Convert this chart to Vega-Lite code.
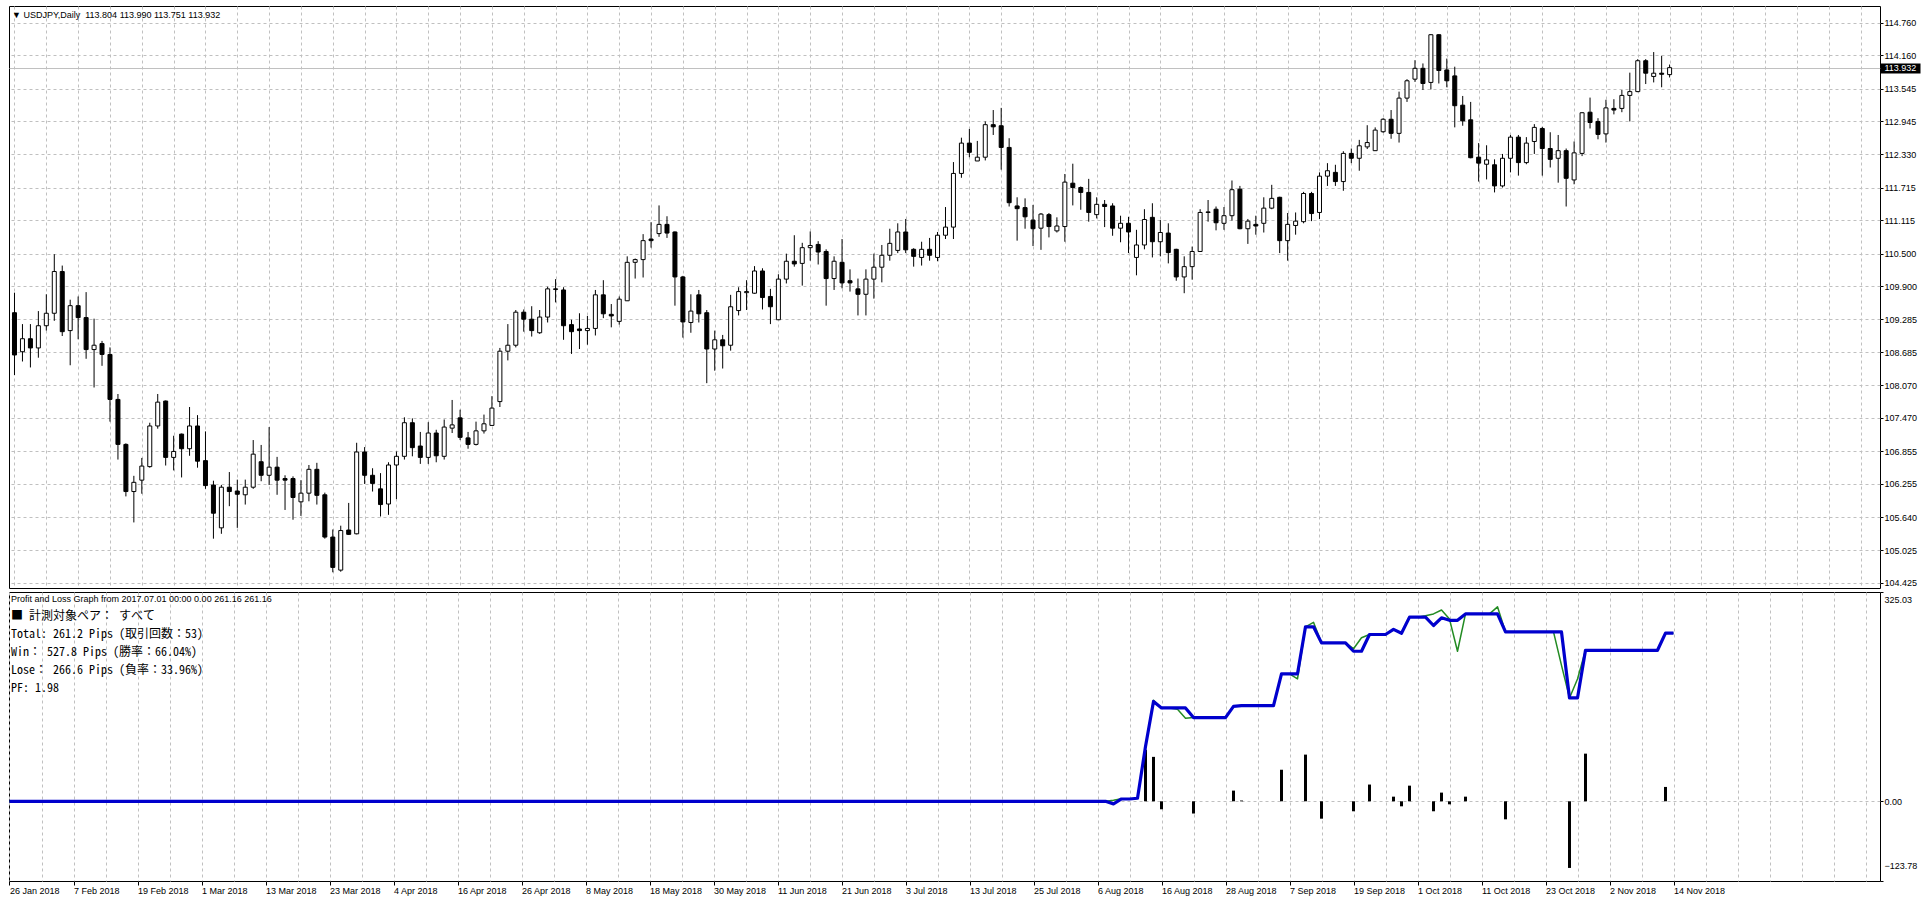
{
"$schema":"https://vega.github.io/schema/vega-lite/v6.json",
"background":"white",
"padding":{"left":7,"top":5,"right":0,"bottom":0},
"spacing":2,
"config":{
"view":{"stroke":"black","strokeWidth":1},
"axis":{"labelFont":"Liberation Sans","labelFontSize":9,"labelColor":"black","tickColor":"black","gridColor":"#c0c0c0","gridDash":[3,3],"gridWidth":1,"domain":false,"labelOverlap":false,"labelFlush":false,"labelBound":false}
},
"datasets":{"bars":[
{"i":0,"o":109.41,"h":109.78,"l":108.26,"c":108.63,"eq":0,"fl":0},
{"i":1,"o":108.69,"h":109.2,"l":108.51,"c":108.93,"eq":0,"fl":0},
{"i":2,"o":108.93,"h":109.2,"l":108.4,"c":108.76,"eq":0,"fl":0},
{"i":3,"o":108.76,"h":109.44,"l":108.58,"c":109.17,"eq":0,"fl":0},
{"i":4,"o":109.17,"h":109.75,"l":109.08,"c":109.4,"eq":0,"fl":0},
{"i":5,"o":109.4,"h":110.49,"l":109.26,"c":110.17,"eq":0,"fl":0},
{"i":6,"o":110.17,"h":110.28,"l":108.98,"c":109.06,"eq":0,"fl":0},
{"i":7,"o":109.08,"h":109.65,"l":108.44,"c":109.54,"eq":0,"fl":0},
{"i":8,"o":109.54,"h":109.71,"l":108.92,"c":109.32,"eq":0,"fl":0},
{"i":9,"o":109.32,"h":109.79,"l":108.56,"c":108.73,"eq":0,"fl":0},
{"i":10,"o":108.73,"h":109.3,"l":108.03,"c":108.81,"eq":0,"fl":0},
{"i":11,"o":108.84,"h":108.89,"l":108.43,"c":108.64,"eq":0,"fl":0},
{"i":12,"o":108.64,"h":108.77,"l":107.4,"c":107.81,"eq":0,"fl":0},
{"i":13,"o":107.81,"h":107.91,"l":106.7,"c":106.98,"eq":0,"fl":0},
{"i":14,"o":106.98,"h":107.0,"l":106.02,"c":106.11,"eq":0,"fl":0},
{"i":15,"o":106.11,"h":106.4,"l":105.54,"c":106.28,"eq":0,"fl":0},
{"i":16,"o":106.32,"h":106.73,"l":106.07,"c":106.58,"eq":0,"fl":0},
{"i":17,"o":106.57,"h":107.38,"l":106.55,"c":107.32,"eq":0,"fl":0},
{"i":18,"o":107.32,"h":107.91,"l":107.27,"c":107.76,"eq":0,"fl":0},
{"i":19,"o":107.78,"h":107.79,"l":106.59,"c":106.74,"eq":0,"fl":0},
{"i":20,"o":106.74,"h":107.14,"l":106.5,"c":106.85,"eq":0,"fl":0},
{"i":21,"o":107.17,"h":107.18,"l":106.37,"c":106.9,"eq":0,"fl":0},
{"i":22,"o":106.9,"h":107.67,"l":106.77,"c":107.32,"eq":0,"fl":0},
{"i":23,"o":107.32,"h":107.52,"l":106.55,"c":106.67,"eq":0,"fl":0},
{"i":24,"o":106.68,"h":107.22,"l":106.16,"c":106.22,"eq":0,"fl":0},
{"i":25,"o":106.23,"h":106.31,"l":105.24,"c":105.71,"eq":0,"fl":0},
{"i":26,"o":105.44,"h":106.23,"l":105.33,"c":106.19,"eq":0,"fl":0},
{"i":27,"o":106.19,"h":106.47,"l":105.84,"c":106.11,"eq":0,"fl":0},
{"i":28,"o":106.12,"h":106.33,"l":105.44,"c":106.06,"eq":0,"fl":0},
{"i":29,"o":106.05,"h":106.33,"l":105.87,"c":106.19,"eq":0,"fl":0},
{"i":30,"o":106.19,"h":107.06,"l":106.16,"c":106.8,"eq":0,"fl":0},
{"i":31,"o":106.66,"h":106.97,"l":106.3,"c":106.41,"eq":0,"fl":0},
{"i":32,"o":106.41,"h":107.3,"l":106.23,"c":106.56,"eq":0,"fl":0},
{"i":33,"o":106.56,"h":106.75,"l":106.05,"c":106.32,"eq":0,"fl":0},
{"i":34,"o":106.35,"h":106.41,"l":105.77,"c":106.32,"eq":0,"fl":0},
{"i":35,"o":106.35,"h":106.39,"l":105.59,"c":106.0,"eq":0,"fl":0},
{"i":36,"o":105.92,"h":106.32,"l":105.66,"c":106.08,"eq":0,"fl":0},
{"i":37,"o":106.08,"h":106.6,"l":105.93,"c":106.52,"eq":0,"fl":0},
{"i":38,"o":106.52,"h":106.64,"l":105.87,"c":106.04,"eq":0,"fl":0},
{"i":39,"o":106.05,"h":106.09,"l":105.24,"c":105.27,"eq":0,"fl":0},
{"i":40,"o":105.27,"h":105.41,"l":104.62,"c":104.71,"eq":0,"fl":0},
{"i":41,"o":104.66,"h":105.48,"l":104.63,"c":105.39,"eq":0,"fl":0},
{"i":42,"o":105.4,"h":105.9,"l":105.31,"c":105.32,"eq":0,"fl":0},
{"i":43,"o":105.33,"h":107.01,"l":105.32,"c":106.84,"eq":0,"fl":0},
{"i":44,"o":106.84,"h":106.93,"l":106.25,"c":106.41,"eq":0,"fl":0},
{"i":45,"o":106.41,"h":106.54,"l":106.11,"c":106.26,"eq":0,"fl":0},
{"i":46,"o":106.16,"h":106.45,"l":105.65,"c":105.87,"eq":0,"fl":0},
{"i":47,"o":105.88,"h":106.65,"l":105.68,"c":106.6,"eq":0,"fl":0},
{"i":48,"o":106.6,"h":106.85,"l":105.97,"c":106.76,"eq":0,"fl":0},
{"i":49,"o":106.76,"h":107.48,"l":106.7,"c":107.38,"eq":0,"fl":0},
{"i":50,"o":107.38,"h":107.46,"l":106.76,"c":106.92,"eq":0,"fl":0},
{"i":51,"o":106.95,"h":107.21,"l":106.62,"c":106.74,"eq":0,"fl":0},
{"i":52,"o":106.74,"h":107.39,"l":106.62,"c":107.19,"eq":0,"fl":0},
{"i":53,"o":107.19,"h":107.25,"l":106.65,"c":106.77,"eq":0,"fl":0},
{"i":54,"o":106.76,"h":107.44,"l":106.7,"c":107.3,"eq":0,"fl":0},
{"i":55,"o":107.28,"h":107.8,"l":107.19,"c":107.34,"eq":0,"fl":0},
{"i":56,"o":107.47,"h":107.62,"l":107.06,"c":107.11,"eq":0,"fl":0},
{"i":57,"o":107.1,"h":107.21,"l":106.9,"c":106.98,"eq":0,"fl":0},
{"i":58,"o":106.98,"h":107.4,"l":106.96,"c":107.23,"eq":0,"fl":0},
{"i":59,"o":107.23,"h":107.53,"l":107.18,"c":107.36,"eq":0,"fl":0},
{"i":60,"o":107.33,"h":107.87,"l":107.33,"c":107.65,"eq":0,"fl":0},
{"i":61,"o":107.77,"h":108.76,"l":107.67,"c":108.7,"eq":0,"fl":0},
{"i":62,"o":108.7,"h":109.2,"l":108.53,"c":108.81,"eq":0,"fl":0},
{"i":63,"o":108.81,"h":109.46,"l":108.77,"c":109.42,"eq":0,"fl":0},
{"i":64,"o":109.42,"h":109.47,"l":109.06,"c":109.29,"eq":0,"fl":0},
{"i":65,"o":109.29,"h":109.53,"l":108.97,"c":109.08,"eq":0,"fl":0},
{"i":66,"o":109.04,"h":109.46,"l":109.02,"c":109.33,"eq":0,"fl":0},
{"i":67,"o":109.33,"h":109.89,"l":109.23,"c":109.85,"eq":0,"fl":0},
{"i":68,"o":109.85,"h":110.03,"l":109.6,"c":109.84,"eq":0,"fl":0},
{"i":69,"o":109.83,"h":109.88,"l":108.91,"c":109.17,"eq":0,"fl":0},
{"i":70,"o":109.19,"h":109.28,"l":108.65,"c":109.06,"eq":0,"fl":0},
{"i":71,"o":109.11,"h":109.4,"l":108.74,"c":109.08,"eq":0,"fl":0},
{"i":72,"o":109.08,"h":109.35,"l":108.82,"c":109.12,"eq":0,"fl":0},
{"i":73,"o":109.12,"h":109.83,"l":108.99,"c":109.74,"eq":0,"fl":0},
{"i":74,"o":109.74,"h":110.01,"l":109.31,"c":109.39,"eq":0,"fl":0},
{"i":75,"o":109.38,"h":109.57,"l":109.14,"c":109.35,"eq":0,"fl":0},
{"i":76,"o":109.25,"h":109.71,"l":109.19,"c":109.66,"eq":0,"fl":0},
{"i":77,"o":109.63,"h":110.45,"l":109.63,"c":110.34,"eq":0,"fl":0},
{"i":78,"o":110.34,"h":110.41,"l":110.04,"c":110.39,"eq":0,"fl":0},
{"i":79,"o":110.39,"h":110.86,"l":110.06,"c":110.74,"eq":0,"fl":0},
{"i":80,"o":110.77,"h":111.08,"l":110.61,"c":110.74,"eq":0,"fl":0},
{"i":81,"o":110.87,"h":111.39,"l":110.81,"c":111.04,"eq":0,"fl":0},
{"i":82,"o":111.04,"h":111.19,"l":110.79,"c":110.88,"eq":0,"fl":0},
{"i":83,"o":110.9,"h":110.91,"l":109.54,"c":110.07,"eq":0,"fl":0},
{"i":84,"o":110.07,"h":110.09,"l":108.95,"c":109.24,"eq":0,"fl":0},
{"i":85,"o":109.23,"h":109.75,"l":109.04,"c":109.44,"eq":0,"fl":0},
{"i":86,"o":109.74,"h":109.83,"l":109.23,"c":109.39,"eq":0,"fl":0},
{"i":87,"o":109.41,"h":109.46,"l":108.11,"c":108.74,"eq":0,"fl":0},
{"i":88,"o":108.74,"h":109.08,"l":108.34,"c":108.91,"eq":0,"fl":0},
{"i":89,"o":108.91,"h":109.0,"l":108.38,"c":108.8,"eq":0,"fl":0},
{"i":90,"o":108.81,"h":109.74,"l":108.71,"c":109.52,"eq":0,"fl":0},
{"i":91,"o":109.45,"h":109.88,"l":109.36,"c":109.8,"eq":0,"fl":0},
{"i":92,"o":109.78,"h":110.01,"l":109.46,"c":109.8,"eq":0,"fl":0},
{"i":93,"o":109.77,"h":110.27,"l":109.76,"c":110.18,"eq":0,"fl":0},
{"i":94,"o":110.18,"h":110.23,"l":109.47,"c":109.69,"eq":0,"fl":0},
{"i":95,"o":109.71,"h":109.85,"l":109.2,"c":109.52,"eq":0,"fl":0},
{"i":96,"o":109.28,"h":110.12,"l":109.28,"c":110.03,"eq":0,"fl":0},
{"i":97,"o":110.03,"h":110.5,"l":109.95,"c":110.36,"eq":0,"fl":0},
{"i":98,"o":110.36,"h":110.84,"l":110.26,"c":110.31,"eq":0,"fl":0},
{"i":99,"o":110.32,"h":110.7,"l":109.91,"c":110.61,"eq":0,"fl":0},
{"i":100,"o":110.61,"h":110.91,"l":110.37,"c":110.65,"eq":0,"fl":0},
{"i":101,"o":110.67,"h":110.73,"l":110.3,"c":110.53,"eq":0,"fl":0},
{"i":102,"o":110.54,"h":110.58,"l":109.54,"c":110.04,"eq":0,"fl":0},
{"i":103,"o":110.04,"h":110.45,"l":109.83,"c":110.36,"eq":0,"fl":0},
{"i":104,"o":110.34,"h":110.77,"l":109.86,"c":109.96,"eq":0,"fl":0},
{"i":105,"o":110.0,"h":110.21,"l":109.8,"c":109.96,"eq":0,"fl":0},
{"i":106,"o":109.85,"h":110.04,"l":109.36,"c":109.75,"eq":0,"fl":0},
{"i":107,"o":109.75,"h":110.21,"l":109.36,"c":110.03,"eq":0,"fl":0},
{"i":108,"o":110.03,"h":110.5,"l":109.67,"c":110.25,"eq":0,"fl":0},
{"i":109,"o":110.25,"h":110.66,"l":109.97,"c":110.47,"eq":0,"fl":0},
{"i":110,"o":110.47,"h":110.96,"l":110.37,"c":110.69,"eq":0,"fl":0},
{"i":111,"o":110.56,"h":111.06,"l":110.51,"c":110.9,"eq":0,"fl":0},
{"i":112,"o":110.9,"h":111.14,"l":110.51,"c":110.57,"eq":0,"fl":0},
{"i":113,"o":110.58,"h":110.6,"l":110.26,"c":110.45,"eq":0,"fl":0},
{"i":114,"o":110.43,"h":110.72,"l":110.28,"c":110.58,"eq":0,"fl":0},
{"i":115,"o":110.58,"h":110.79,"l":110.37,"c":110.47,"eq":0,"fl":0},
{"i":116,"o":110.43,"h":110.9,"l":110.36,"c":110.84,"eq":0,"fl":0},
{"i":117,"o":110.84,"h":111.36,"l":110.77,"c":110.99,"eq":0,"fl":0},
{"i":118,"o":110.99,"h":112.19,"l":110.77,"c":111.98,"eq":0,"fl":0},
{"i":119,"o":111.98,"h":112.64,"l":111.9,"c":112.54,"eq":0,"fl":0},
{"i":120,"o":112.54,"h":112.8,"l":112.28,"c":112.37,"eq":0,"fl":0},
{"i":121,"o":112.21,"h":112.58,"l":112.21,"c":112.28,"eq":0,"fl":0},
{"i":122,"o":112.28,"h":112.94,"l":112.22,"c":112.88,"eq":0,"fl":0},
{"i":123,"o":112.88,"h":113.15,"l":112.69,"c":112.84,"eq":0,"fl":0},
{"i":124,"o":112.86,"h":113.19,"l":112.05,"c":112.46,"eq":0,"fl":0},
{"i":125,"o":112.46,"h":112.63,"l":111.37,"c":111.44,"eq":0,"fl":0},
{"i":126,"o":111.38,"h":111.54,"l":110.74,"c":111.33,"eq":0,"fl":0},
{"i":127,"o":111.35,"h":111.52,"l":110.96,"c":111.18,"eq":0,"fl":0},
{"i":128,"o":111.12,"h":111.4,"l":110.64,"c":110.96,"eq":0,"fl":0},
{"i":129,"o":110.97,"h":111.25,"l":110.57,"c":111.23,"eq":0,"fl":0},
{"i":130,"o":111.22,"h":111.25,"l":110.8,"c":111.0,"eq":0,"fl":0},
{"i":131,"o":110.92,"h":111.17,"l":110.89,"c":111.01,"eq":0,"fl":0},
{"i":132,"o":111.0,"h":111.97,"l":110.72,"c":111.82,"eq":0,"fl":0},
{"i":133,"o":111.8,"h":112.16,"l":111.39,"c":111.72,"eq":0,"fl":0},
{"i":134,"o":111.72,"h":111.74,"l":111.31,"c":111.63,"eq":0,"fl":0},
{"i":135,"o":111.63,"h":111.88,"l":111.09,"c":111.26,"eq":0,"fl":0},
{"i":136,"o":111.22,"h":111.54,"l":111.15,"c":111.41,"eq":0,"fl":0},
{"i":137,"o":111.41,"h":111.49,"l":110.99,"c":111.37,"eq":0,"fl":0},
{"i":138,"o":111.38,"h":111.43,"l":110.83,"c":110.97,"eq":-4,"fl":1.5},
{"i":139,"o":110.97,"h":111.2,"l":110.71,"c":111.06,"eq":3.6,"fl":4},
{"i":140,"o":111.06,"h":111.18,"l":110.51,"c":110.9,"eq":3.6,"fl":3.6},
{"i":141,"o":110.43,"h":110.94,"l":110.1,"c":110.66,"eq":4.7,"fl":4.7},
{"i":142,"o":110.66,"h":111.32,"l":110.58,"c":111.13,"eq":85,"fl":85,"tr":80},
{"i":143,"o":111.17,"h":111.43,"l":110.43,"c":110.72,"eq":155,"fl":157,"tr":69},
{"i":144,"o":110.72,"h":111.12,"l":110.45,"c":110.89,"eq":145,"fl":145,"tr":-12.4},
{"i":145,"o":110.88,"h":111.06,"l":110.32,"c":110.52,"eq":145,"fl":145},
{"i":146,"o":110.58,"h":110.59,"l":110.0,"c":110.07,"eq":145,"fl":143},
{"i":147,"o":110.07,"h":110.45,"l":109.77,"c":110.26,"eq":145,"fl":129},
{"i":148,"o":110.26,"h":110.63,"l":110.02,"c":110.54,"eq":130,"fl":130,"tr":-19},
{"i":149,"o":110.54,"h":111.32,"l":110.53,"c":111.26,"eq":130,"fl":130},
{"i":150,"o":111.26,"h":111.49,"l":111.09,"c":111.27,"eq":130,"fl":130},
{"i":151,"o":111.32,"h":111.37,"l":110.93,"c":111.07,"eq":130,"fl":130},
{"i":152,"o":111.06,"h":111.36,"l":110.94,"c":111.2,"eq":130,"fl":130},
{"i":153,"o":111.2,"h":111.85,"l":111.11,"c":111.68,"eq":147.5,"fl":147.5,"tr":16.6},
{"i":154,"o":111.69,"h":111.75,"l":110.95,"c":110.96,"eq":148.6,"fl":148.6,"tr":1.2},
{"i":155,"o":110.96,"h":111.14,"l":110.68,"c":111.1,"eq":148.6,"fl":148.6},
{"i":156,"o":111.04,"h":111.2,"l":110.85,"c":111.01,"eq":148.6,"fl":148.6},
{"i":157,"o":111.06,"h":111.54,"l":110.89,"c":111.34,"eq":148.6,"fl":148.6},
{"i":158,"o":111.34,"h":111.77,"l":111.32,"c":111.52,"eq":148.6,"fl":148.6},
{"i":159,"o":111.54,"h":111.55,"l":110.51,"c":110.74,"eq":198,"fl":198,"tr":49},
{"i":160,"o":110.74,"h":111.25,"l":110.37,"c":111.04,"eq":198,"fl":198},
{"i":161,"o":111.02,"h":111.26,"l":110.85,"c":111.1,"eq":198,"fl":190},
{"i":162,"o":111.09,"h":111.64,"l":111.06,"c":111.61,"eq":271,"fl":271,"tr":72.5},
{"i":163,"o":111.61,"h":111.64,"l":111.1,"c":111.24,"eq":271,"fl":278},
{"i":164,"o":111.26,"h":112.0,"l":111.14,"c":111.93,"eq":246,"fl":246,"tr":-27},
{"i":165,"o":111.93,"h":112.17,"l":111.75,"c":112.03,"eq":246,"fl":246},
{"i":166,"o":112.0,"h":112.14,"l":111.75,"c":111.83,"eq":246,"fl":246},
{"i":167,"o":111.83,"h":112.39,"l":111.66,"c":112.35,"eq":246,"fl":246},
{"i":168,"o":112.35,"h":112.44,"l":112.17,"c":112.26,"eq":233,"fl":237,"tr":-15.5},
{"i":169,"o":112.26,"h":112.6,"l":112.03,"c":112.49,"eq":233,"fl":254},
{"i":170,"o":112.47,"h":112.87,"l":112.43,"c":112.55,"eq":259,"fl":259,"tr":26},
{"i":171,"o":112.4,"h":112.83,"l":112.4,"c":112.78,"eq":259,"fl":259},
{"i":172,"o":112.75,"h":113.0,"l":112.73,"c":112.98,"eq":259,"fl":259},
{"i":173,"o":112.98,"h":113.15,"l":112.62,"c":112.72,"eq":267,"fl":267,"tr":7.2},
{"i":174,"o":112.72,"h":113.49,"l":112.55,"c":113.37,"eq":261,"fl":261,"tr":-7.8},
{"i":175,"o":113.37,"h":113.72,"l":113.3,"c":113.69,"eq":286,"fl":286,"tr":24.3},
{"i":176,"o":113.72,"h":114.07,"l":113.67,"c":113.92,"eq":286,"fl":286},
{"i":177,"o":113.92,"h":114.01,"l":113.52,"c":113.64,"eq":286,"fl":288},
{"i":178,"o":113.66,"h":114.55,"l":113.53,"c":114.54,"eq":273,"fl":291,"tr":-15.5},
{"i":179,"o":114.54,"h":114.55,"l":113.64,"c":113.88,"eq":285,"fl":297,"tr":13.5},
{"i":180,"o":113.89,"h":114.1,"l":113.57,"c":113.69,"eq":281,"fl":283,"tr":-4.7},
{"i":181,"o":113.78,"h":113.95,"l":112.83,"c":113.23,"eq":281,"fl":233},
{"i":182,"o":113.24,"h":113.41,"l":112.86,"c":112.95,"eq":291,"fl":291,"tr":7.2},
{"i":183,"o":112.97,"h":113.3,"l":112.26,"c":112.27,"eq":291,"fl":291},
{"i":184,"o":112.28,"h":112.54,"l":111.83,"c":112.17,"eq":291,"fl":291},
{"i":185,"o":112.15,"h":112.5,"l":111.87,"c":112.23,"eq":291,"fl":291},
{"i":186,"o":112.14,"h":112.24,"l":111.63,"c":111.75,"eq":291,"fl":302},
{"i":187,"o":111.75,"h":112.34,"l":111.72,"c":112.26,"eq":263,"fl":263,"tr":-28},
{"i":188,"o":112.26,"h":112.69,"l":112.0,"c":112.65,"eq":263,"fl":263},
{"i":189,"o":112.65,"h":112.69,"l":111.94,"c":112.18,"eq":263,"fl":263},
{"i":190,"o":112.18,"h":112.65,"l":112.15,"c":112.54,"eq":263,"fl":263},
{"i":191,"o":112.57,"h":112.89,"l":112.34,"c":112.83,"eq":263,"fl":263},
{"i":192,"o":112.81,"h":112.84,"l":111.94,"c":112.44,"eq":263,"fl":263},
{"i":193,"o":112.44,"h":112.74,"l":112.09,"c":112.24,"eq":263,"fl":263},
{"i":194,"o":112.26,"h":112.69,"l":111.81,"c":112.4,"eq":263,"fl":211},
{"i":195,"o":112.4,"h":112.44,"l":111.37,"c":111.89,"eq":160.5,"fl":160.5,"tr":-103.5},
{"i":196,"o":111.86,"h":112.57,"l":111.78,"c":112.36,"eq":160.5,"fl":190},
{"i":197,"o":112.35,"h":113.11,"l":112.3,"c":113.1,"eq":234.5,"fl":234.5,"tr":74},
{"i":198,"o":113.11,"h":113.38,"l":112.81,"c":112.92,"eq":234.5,"fl":234.5},
{"i":199,"o":112.94,"h":113.0,"l":112.61,"c":112.7,"eq":234.5,"fl":234.5},
{"i":200,"o":112.71,"h":113.34,"l":112.55,"c":113.19,"eq":234.5,"fl":234.5},
{"i":201,"o":113.18,"h":113.35,"l":113.07,"c":113.15,"eq":234.5,"fl":234.5},
{"i":202,"o":113.18,"h":113.52,"l":113.11,"c":113.42,"eq":234.5,"fl":234.5},
{"i":203,"o":113.42,"h":113.84,"l":112.94,"c":113.49,"eq":234.5,"fl":234.5},
{"i":204,"o":113.49,"h":114.09,"l":113.48,"c":114.06,"eq":234.5,"fl":234.5},
{"i":205,"o":114.06,"h":114.09,"l":113.63,"c":113.83,"eq":234.5,"fl":234.5},
{"i":206,"o":113.77,"h":114.22,"l":113.66,"c":113.83,"eq":234.5,"fl":234.5},
{"i":207,"o":113.83,"h":114.15,"l":113.57,"c":113.81,"eq":261.16,"fl":261.16,"tr":22.3},
{"i":208,"o":113.804,"h":113.99,"l":113.751,"c":113.932,"eq":261.16,"fl":261.16}
]},
"vconcat":[
{
"width":1871,"height":582,
"data":{"name":"bars"},
"title":{"text":"▼ USDJPY,Daily\u00a0 113.804 113.990 113.751 113.932","anchor":"start","frame":"group","orient":"top","offset":-14,"dx":3,"font":"Liberation Sans","fontSize":9,"fontWeight":"normal","color":"black"},
"encoding":{"x":{"field":"i","type":"quantitative","scale":{"domain":[-0.0625,233.8125],"nice":false,"zero":false},
"axis":{"title":null,"labels":false,"ticks":false,"grid":true,"values":[0,4,8,12,16,20,24,28,32,36,40,44,48,52,56,60,64,68,72,76,80,84,88,92,96,100,104,108,112,116,120,124,128,132,136,140,144,148,152,156,160,164,168,172,176,180,184,188,192,196,200,204,208,212,216,220,224,228,232]}}},
"layer":[
{"mark":{"type":"rule","color":"black","strokeWidth":1},
"encoding":{"y":{"field":"l","type":"quantitative","scale":{"domain":[104.33,115.07],"nice":false,"zero":false},
"axis":{"orient":"right","title":null,"format":".3f","grid":true,
"values":[104.425,105.025,105.64,106.255,106.855,107.47,108.07,108.685,109.285,109.9,110.5,111.115,111.715,112.33,112.945,113.545,113.932,114.16,114.76],
"gridDash":{"condition":{"test":"abs(datum.value-113.932)<0.0001","value":[]},"value":[3,3]},
"tickSize":{"condition":{"test":"abs(datum.value-113.932)<0.0001","value":40},"value":3},
"tickWidth":{"condition":{"test":"abs(datum.value-113.932)<0.0001","value":10},"value":1},
"labelColor":{"condition":{"test":"abs(datum.value-113.932)<0.0001","value":"white"},"value":"black"},
"labelPadding":{"condition":{"test":"abs(datum.value-113.932)<0.0001","value":-36},"value":1}}},
"y2":{"field":"h"}}},
{"mark":{"type":"bar","size":4,"stroke":"black","strokeWidth":1},
"encoding":{"y":{"field":"o","type":"quantitative","scale":{"domain":[104.33,115.07],"nice":false,"zero":false},
"axis":{"orient":"right","title":null,"format":".3f","grid":true,
"values":[104.425,105.025,105.64,106.255,106.855,107.47,108.07,108.685,109.285,109.9,110.5,111.115,111.715,112.33,112.945,113.545,113.932,114.16,114.76],
"gridDash":{"condition":{"test":"abs(datum.value-113.932)<0.0001","value":[]},"value":[3,3]},
"tickSize":{"condition":{"test":"abs(datum.value-113.932)<0.0001","value":40},"value":3},
"tickWidth":{"condition":{"test":"abs(datum.value-113.932)<0.0001","value":10},"value":1},
"labelColor":{"condition":{"test":"abs(datum.value-113.932)<0.0001","value":"white"},"value":"black"},
"labelPadding":{"condition":{"test":"abs(datum.value-113.932)<0.0001","value":-36},"value":1}}},
"y2":{"field":"c"},
"fill":{"condition":{"test":"datum.c >= datum.o","value":"white"},"value":"black"}}}
]
},
{
"width":1871,"height":289,
"data":{"name":"bars"},
"title":{"text":"Profit and Loss Graph from 2017.07.01 00:00 0.00 261.16 261.16",
"subtitle":["\u00a0■ 計測対象ペア： すべて","\u00a0Total: 261.2 Pips (取引回数：53)","\u00a0Win： 527.8 Pips (勝率：66.04%)","\u00a0Lose： 266.6 Pips (負率：33.96%)","\u00a0PF: 1.98"],
"anchor":"start","frame":"group","orient":"top","offset":-102,"dx":2,"font":"Liberation Sans","fontSize":9,"fontWeight":"normal","color":"black",
"subtitleFont":"Noto Sans Mono CJK JP, Noto Sans CJK JP, DejaVu Sans Mono, monospace","subtitleFontSize":12,"subtitleColor":"black","subtitleLineHeight":18,"subtitlePadding":7},
"encoding":{"x":{"field":"i","type":"quantitative","scale":{"domain":[-0.0625,233.8125],"nice":false,"zero":false},
"axis":{"title":null,"grid":true,"labelAlign":"left","labelBaseline":"top","labelPadding":1,
"values":[0,4,8,12,16,20,24,28,32,36,40,44,48,52,56,60,64,68,72,76,80,84,88,92,96,100,104,108,112,116,120,124,128,132,136,140,144,148,152,156,160,164,168,172,176,180,184,188,192,196,200,204,208,212,216,220,224,228,232],
"tickSize":{"condition":{"test":"datum.value % 8 == 0 && datum.value <= 208","value":4},"value":0},
"labelExpr":"(datum.value % 8 == 0 && datum.value <= 208) ? ['26 Jan 2018','7 Feb 2018','19 Feb 2018','1 Mar 2018','13 Mar 2018','23 Mar 2018','4 Apr 2018','16 Apr 2018','26 Apr 2018','8 May 2018','18 May 2018','30 May 2018','11 Jun 2018','21 Jun 2018','3 Jul 2018','13 Jul 2018','25 Jul 2018','6 Aug 2018','16 Aug 2018','28 Aug 2018','7 Sep 2018','19 Sep 2018','1 Oct 2018','11 Oct 2018','23 Oct 2018','2 Nov 2018','14 Nov 2018'][datum.value / 8] : ''"}}},
"layer":[
{"mark":{"type":"rule","color":"black","strokeWidth":3},
"encoding":{"y":{"field":"tr","type":"quantitative","scale":{"domain":[-123.78,325.03],"nice":false,"zero":false},
"axis":{"orient":"right","title":null,"format":".2f","values":[325.03,0,-123.78],"grid":true,"tickSize":3,"labelPadding":1,"labelBaseline":"middle",
"gridOpacity":{"condition":{"test":"datum.value == 0","value":1},"value":0},
"labelOffset":{"condition":[{"test":"datum.value > 300","value":7},{"test":"datum.value < -100","value":-16}],"value":0}}},
"y2":{"datum":0}}},
{"mark":{"type":"line","color":"#228b22","strokeWidth":1.5,"strokeJoin":"round"},
"encoding":{"y":{"field":"fl","type":"quantitative","scale":{"domain":[-123.78,325.03],"nice":false,"zero":false}}}},
{"mark":{"type":"line","color":"#0000cd","strokeWidth":3.2,"strokeJoin":"round"},
"encoding":{"y":{"field":"eq","type":"quantitative","scale":{"domain":[-123.78,325.03],"nice":false,"zero":false}}}}
]
}
]
}
